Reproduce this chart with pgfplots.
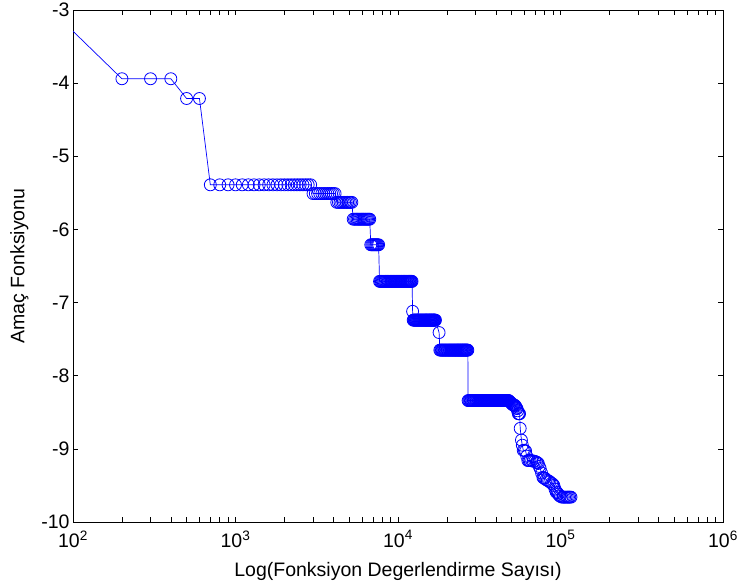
\documentclass[border=0pt]{standalone}
\usepackage{pgfplots}
\pgfplotsset{compat=1.18}
\usepackage{fontspec}
\setmainfont{Liberation Sans}
\definecolor{mblue}{RGB}{0,0,255}
\begin{document}
\begin{tikzpicture}[font=\fontsize{19.5bp}{23bp}\selectfont]
\useasboundingbox (0,0) rectangle (741bp,588bp);
\begin{axis}[
  at={(73bp,66bp)}, anchor=south west,
  scale only axis, width=650bp, height=512bp,
  xmode=log, xmin=100, xmax=1000000, ymin=-10, ymax=-3,
  xtick={100,1000,10000,100000,1000000},
  xticklabels={10\textsuperscript{2},10\textsuperscript{3},10\textsuperscript{4},10\textsuperscript{5},10\textsuperscript{6}},
  ytick={-10,-9,-8,-7,-6,-5,-4,-3},
  yticklabels={-10,-9,-8,-7,-6,-5,-4,-3},
  tick align=inside,
  major tick length=5bp, minor tick length=5bp,
  axis line style={line width=0.8bp},
  every tick/.style={black, line width=0.6bp},
  xticklabel style={yshift=-5bp},
  xlabel={Log(Fonksiyon Degerlendirme Sayısı)},
  ylabel={Amaç Fonksiyonu},
  xlabel style={yshift=-8bp},
  ylabel style={yshift=6bp},
  clip=true,
]
\addplot[mblue, line width=0.7bp, no marks] coordinates {(100,-3.29)(200,-3.94)};
\addplot[mblue, line width=0.7bp, mark=o, mark size=6bp, mark options={line width=0.8bp}] coordinates {
(200,-3.94)(300,-3.94)(400,-3.94)
(500,-4.21)(600,-4.21)
(700,-5.39)(800,-5.39)(900,-5.39)(1000,-5.39)(1100,-5.39)(1200,-5.39)(1300,-5.39)(1400,-5.39)(1500,-5.39)(1600,-5.39)(1700,-5.39)(1800,-5.39)(1900,-5.39)(2000,-5.39)(2100,-5.39)(2200,-5.39)(2300,-5.39)(2400,-5.39)(2500,-5.39)(2600,-5.39)(2700,-5.39)(2800,-5.39)(2900,-5.39)
(3000,-5.51)(3100,-5.51)(3200,-5.51)(3300,-5.51)(3400,-5.51)(3500,-5.51)(3600,-5.51)(3700,-5.51)(3800,-5.51)(3900,-5.51)(4000,-5.51)(4100,-5.51)
(4200,-5.63)(4300,-5.63)(4400,-5.63)(4500,-5.63)(4600,-5.63)(4700,-5.63)(4800,-5.63)(4900,-5.63)(5000,-5.63)(5100,-5.63)(5200,-5.63)
(5300,-5.86)(5400,-5.86)(5500,-5.86)(5600,-5.86)(5700,-5.86)(5800,-5.86)(5900,-5.86)(6000,-5.86)(6100,-5.86)(6200,-5.86)(6300,-5.86)(6400,-5.86)(6500,-5.86)(6600,-5.86)(6700,-5.86)
(6800,-6.21)(6900,-6.21)(7000,-6.21)(7100,-6.21)(7200,-6.21)(7300,-6.21)(7400,-6.21)(7500,-6.21)(7600,-6.21)
(7700,-6.71)(7800,-6.71)(7900,-6.71)(8000,-6.71)(8100,-6.71)(8200,-6.71)(8300,-6.71)(8400,-6.71)(8500,-6.71)(8600,-6.71)(8700,-6.71)(8800,-6.71)(8900,-6.71)(9000,-6.71)(9100,-6.71)(9200,-6.71)(9300,-6.71)(9400,-6.71)(9500,-6.71)(9600,-6.71)(9700,-6.71)(9800,-6.71)(9900,-6.71)(10000,-6.71)
(10100,-6.71)(10200,-6.71)(10300,-6.71)(10400,-6.71)(10500,-6.71)(10600,-6.71)(10700,-6.71)(10800,-6.71)(10900,-6.71)(11000,-6.71)(11100,-6.71)(11200,-6.71)(11300,-6.71)(11400,-6.71)(11500,-6.71)(11600,-6.71)(11700,-6.71)(11800,-6.71)(11900,-6.71)(12000,-6.71)(12100,-6.71)(12200,-6.71)
(12300,-7.12)
(12400,-7.24)(12500,-7.24)(12600,-7.24)(12700,-7.24)(12800,-7.24)(12900,-7.24)(13000,-7.24)(13100,-7.24)(13200,-7.24)(13300,-7.24)(13400,-7.24)(13500,-7.24)(13600,-7.24)(13700,-7.24)(13800,-7.24)(13900,-7.24)(14000,-7.24)(14100,-7.24)(14200,-7.24)(14300,-7.24)(14400,-7.24)(14500,-7.24)(14600,-7.24)(14700,-7.24)(14800,-7.24)(14900,-7.24)(15000,-7.24)(15100,-7.24)(15200,-7.24)(15300,-7.24)(15400,-7.24)(15500,-7.24)(15600,-7.24)(15700,-7.24)(15800,-7.24)(15900,-7.24)(16000,-7.24)(16100,-7.24)(16200,-7.24)(16300,-7.24)(16400,-7.24)(16500,-7.24)(16600,-7.24)(16700,-7.24)(16800,-7.24)(16900,-7.24)(17000,-7.24)
(17900,-7.41)
(18100,-7.65)(18300,-7.65)(18500,-7.65)(18700,-7.65)(18900,-7.65)(19100,-7.65)(19300,-7.65)(19500,-7.65)(19700,-7.65)(19900,-7.65)(20100,-7.65)(20300,-7.65)(20500,-7.65)(20700,-7.65)(20900,-7.65)(21100,-7.65)(21300,-7.65)(21500,-7.65)(21700,-7.65)(21900,-7.65)(22100,-7.65)(22300,-7.65)(22500,-7.65)(22700,-7.65)(22900,-7.65)(23100,-7.65)(23300,-7.65)(23500,-7.65)(23700,-7.65)(23900,-7.65)(24100,-7.65)(24300,-7.65)(24500,-7.65)(24700,-7.65)(24900,-7.65)(25100,-7.65)(25300,-7.65)(25500,-7.65)(25700,-7.65)(25900,-7.65)(26100,-7.65)(26300,-7.65)(26500,-7.65)(26700,-7.65)(26900,-7.65)
(27000,-8.34)(27300,-8.34)(27600,-8.34)(27900,-8.34)(28200,-8.34)(28500,-8.34)(28800,-8.34)(29100,-8.34)(29400,-8.34)(29700,-8.34)(30000,-8.34)(30300,-8.34)(30600,-8.34)(30900,-8.34)(31200,-8.34)(31500,-8.34)(31800,-8.34)(32100,-8.34)(32400,-8.34)(32700,-8.34)(33000,-8.34)(33300,-8.34)(33600,-8.34)(33900,-8.34)(34200,-8.34)(34500,-8.34)(34800,-8.34)(35100,-8.34)(35400,-8.34)(35700,-8.34)(36000,-8.34)(36300,-8.34)(36600,-8.34)(36900,-8.34)(37200,-8.34)(37500,-8.34)(37800,-8.34)(38100,-8.34)(38400,-8.34)(38700,-8.34)(39000,-8.34)(39300,-8.34)(39600,-8.34)(39900,-8.34)(40200,-8.34)(40500,-8.34)(40800,-8.34)(41100,-8.34)(41400,-8.34)(41700,-8.34)(42000,-8.34)(42300,-8.34)(42600,-8.34)(42900,-8.34)(43200,-8.34)(43500,-8.34)(43800,-8.34)(44100,-8.34)(44400,-8.34)(44700,-8.34)(45000,-8.34)(45300,-8.34)(45600,-8.34)(45900,-8.34)(46200,-8.34)(46500,-8.34)(46800,-8.34)(47100,-8.34)(47400,-8.34)(47700,-8.34)(48000,-8.34)
(48500,-8.35)(49000,-8.36)(49500,-8.37)(50000,-8.38)(50500,-8.39)(51000,-8.40)(51500,-8.40)(52000,-8.40)(52500,-8.41)(53000,-8.42)(53500,-8.44)(54000,-8.45)(54500,-8.48)(55000,-8.52)(55500,-8.52)(56000,-8.52)
(56500,-8.72)(57500,-8.88)(58200,-8.95)(59000,-9.02)(60000,-9.02)(61000,-9.03)(62000,-9.10)(63000,-9.16)(64000,-9.16)(65000,-9.16)(66500,-9.16)(68000,-9.17)(69500,-9.17)(71000,-9.18)(72000,-9.19)(73000,-9.20)(74000,-9.24)(75000,-9.27)(76500,-9.33)(78000,-9.39)(79000,-9.40)(80000,-9.40)(81500,-9.42)(83000,-9.43)(84500,-9.44)(86000,-9.45)(88000,-9.47)(89500,-9.48)(91000,-9.50)(92500,-9.55)(94000,-9.59)(95500,-9.60)(97000,-9.62)(98500,-9.64)(100000,-9.65)(102000,-9.66)(104000,-9.66)(106000,-9.66)(108000,-9.66)(110000,-9.66)(112000,-9.66)(114000,-9.66)(116000,-9.66)
};
\end{axis}
\end{tikzpicture}
\end{document}
